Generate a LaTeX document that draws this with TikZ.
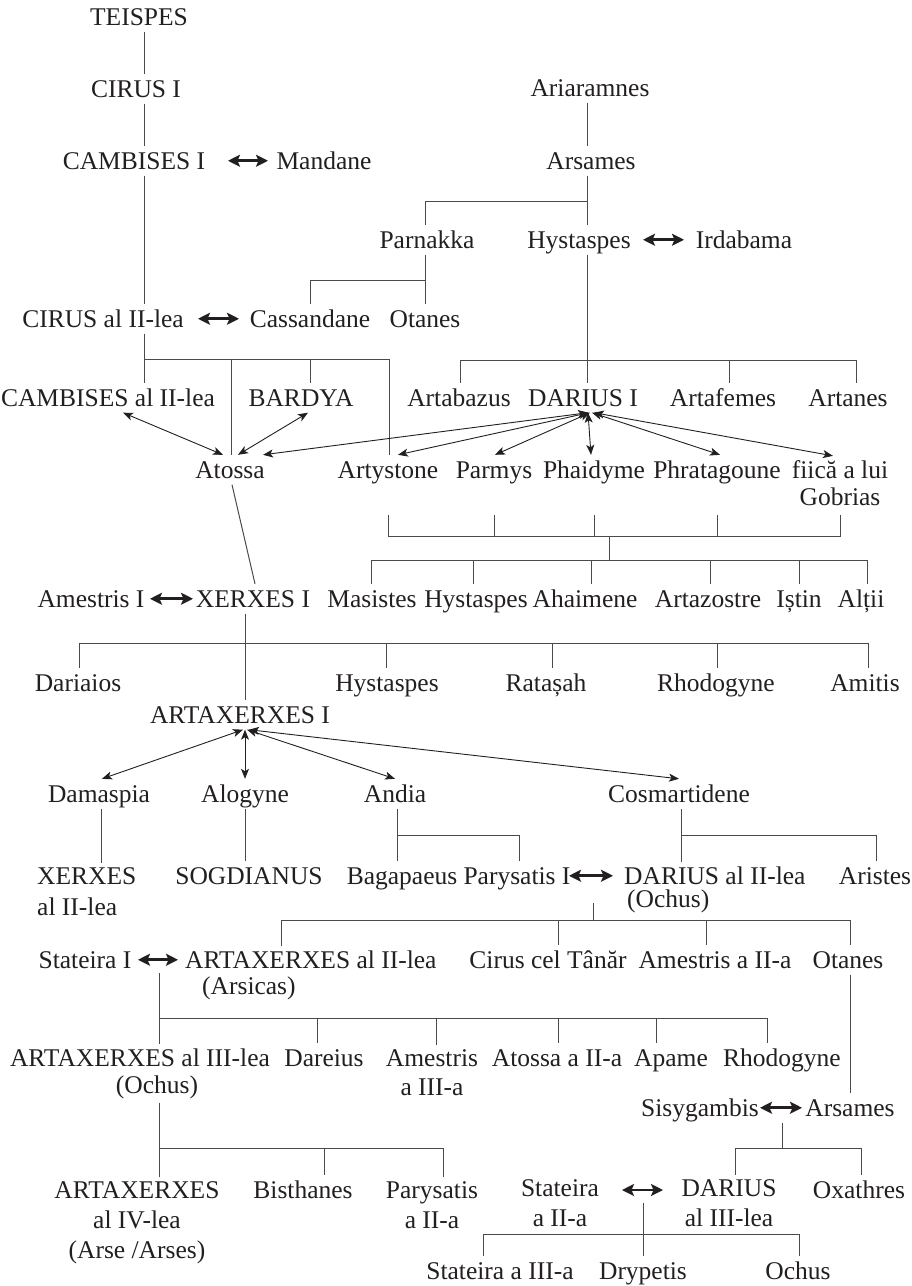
\documentclass[tikz,border=0pt]{standalone}
\usepackage{fontspec}
\setmainfont{Liberation Serif}
\usetikzlibrary{arrows.meta}
\definecolor{txt}{HTML}{231F20}
\definecolor{lin}{HTML}{4A4A4A}
\begin{document}
\begin{tikzpicture}[x=1pt,y=-1pt,
  every node/.style={font=\fontsize{25.5pt}{28pt}\selectfont, text=txt, inner xsep=0pt, inner ysep=1pt, text height=22pt, text depth=5.5pt, anchor=base},
  ml/.style={text height=, text depth=, inner ysep=4pt},
  mc/.style={ml, align=center},
  mlft/.style={ml, align=left, anchor=base west},
  ln/.style={draw=lin, line width=1pt},
  marr/.style={draw=txt, line width=2.6pt, {Stealth[length=12pt,width=12pt,inset=2.5pt]}-{Stealth[length=12pt,width=12pt,inset=2.5pt]}},
  sarr/.style={draw=txt, line width=0.9pt, {Stealth[length=10pt,width=8pt,inset=2.5pt]}-{Stealth[length=10pt,width=8pt,inset=2.5pt]}}
]
\useasboundingbox (0,0) rectangle (912,1286);

% ---------- nodes ----------
\node (teispes) at (139,25) {TEISPES};
\node (cirusI) at (136,97) {CIRUS I};
\node (cambI) at (134,169) {CAMBISES I};
\node (mandane) at (324,169) {Mandane};
\node (ariar) at (590,96) {Ariaramnes};
\node (arsames) at (591,169) {Arsames};
\node (parnakka) at (427,248) {Parnakka};
\node (hyst) at (579,248) {Hystaspes};
\node (irdabama) at (744,248) {Irdabama};
\node (cirusII) at (103,327) {CIRUS al II-lea};
\node (cassandane) at (310,327) {Cassandane};
\node (otanesA) at (425,327) {Otanes};
\node (cambII) at (108,406) {CAMBISES al II-lea};
\node (bardya) at (301,406) {BARDYA};
\node (artabazus) at (459,406) {Artabazus};
\node (dariusI) at (583,406) {DARIUS I};
\node (artafemes) at (723,406) {Artafemes};
\node (artanes) at (848,406) {Artanes};
\node (atossa) at (230,478) {Atossa};
\node (artystone) at (388,478) {Artystone};
\node (parmys) at (494,478) {Parmys};
\node (phaidyme) at (594,478) {Phaidyme};
\node (phratagoune) at (717,478) {Phratagoune};
\node[mc] (gobrias) at (840,505) {fiică a lui\\[-1pt]Gobrias};
\node (amestrisI) at (91,607) {Amestris I};
\node (xerxesI) at (253,607) {XERXES I};
\node (masistes) at (372,607) {Masistes};
\node (hystB) at (476,607) {Hystaspes};
\node (ahaimene) at (585,607) {Ahaimene};
\node (artazostre) at (708,607) {Artazostre};
\node (istin) at (799,607) {Iștin};
\node (altii) at (861,607) {Alții};
\node (dariaios) at (78,691) {Dariaios};
\node (hystC) at (387,691) {Hystaspes};
\node (ratasah) at (546,691) {Ratașah};
\node (rhodoA) at (716,691) {Rhodogyne};
\node (amitis) at (865,691) {Amitis};
\node (artaxI) at (240,723) {ARTAXERXES I};
\node (damaspia) at (99,802) {Damaspia};
\node (alogyne) at (245,802) {Alogyne};
\node (andia) at (395,802) {Andia};
\node (cosmart) at (679,802) {Cosmartidene};
\node[mlft] (xerxesII) at (37,915) {XERXES\\[3pt]al II-lea};
\node (sogdianus) at (249,884) {SOGDIANUS};
\node (bagapaeus) at (402,884) {Bagapaeus};
\node (parysatisI) at (517,884) {Parysatis I};
\node[mlft] (dariusII) at (624,907) {DARIUS al II-lea\\[-5pt]\hspace*{3pt}(Ochus)};
\node (aristes) at (875,884) {Aristes};
\node (stateiraI) at (85,968) {Stateira I};
\node[mlft] (artaxII) at (185,994) {ARTAXERXES al II-lea\\[-2pt]\hspace*{17pt}(Arsicas)};
\node (cirusT) at (548,968) {Cirus cel Tânăr};
\node (amestrisII) at (715,968) {Amestris a II-a};
\node (otanesB) at (848,968) {Otanes};
\node[mc] (artaxIII) at (140,1093) {ARTAXERXES al III-lea\\[-1pt]\hspace*{34pt}(Ochus)};
\node (dareius) at (324,1066) {Dareius};
\node[mc] (amestrisIII) at (432,1095) {Amestris\\[1pt]a III-a};
\node (atossaII) at (557,1066) {Atossa a II-a};
\node (apame) at (671,1066) {Apame};
\node (rhodoB) at (782,1066) {Rhodogyne};
\node (sisyg) at (700,1116) {Sisygambis};
\node (arsamesB) at (850,1116) {Arsames};
\node[mc] (artaxIV) at (137,1258) {ARTAXERXES\\[2pt]al IV-lea\\[2pt](Arse /Arses)};
\node (bisthanes) at (303,1198) {Bisthanes};
\node[mc] (parysatisII) at (432,1228) {Parysatis\\[2pt]a II-a};
\node[mc] (stateiraII) at (560,1226) {Stateira\\[2pt]a II-a};
\node[mc] (dariusIII) at (729,1226) {DARIUS\\[2pt]al III-lea};
\node (oxathres) at (859,1198) {Oxathres};
\node (stateiraIII) at (500,1279) {Stateira a III-a};
\node (drypetis) at (643,1279) {Drypetis};
\node (ochus) at (798,1279) {Ochus};

% ---------- junction coordinates ----------
\coordinate (jA) at (587,201);
\coordinate (jB) at (425,280);
\coordinate (jC) at (144,359);
\coordinate (jD) at (460,360);
\coordinate (tD) at (0,515);
\coordinate (bD) at (0,536);
\coordinate (jE) at (609,536);
\coordinate (bE) at (0,560);
\coordinate (bF) at (0,643);
\coordinate (bG) at (0,835);
\coordinate (mG) at (593,903);
\coordinate (bH) at (0,920);
\coordinate (mH) at (159,973);
\coordinate (bI) at (0,1018);
\coordinate (mI) at (782,1123);
\coordinate (bJ) at (0,1148);
\coordinate (bK) at (0,1148);
\coordinate (mJ) at (643,1190);
\coordinate (bL) at (0,1234);

% ---------- Teispes line ----------
\draw[ln] (teispes.south -| 144,0) -- (cirusI.north -| 144,0);
\draw[ln] (cirusI.south -| 144,0) -- (cambI.north -| 144,0);
\draw[ln] (cambI.south -| 144,0) -- (cirusII.north -| 144,0);
\draw[marr] (cambI.east -| 228,0) -- (mandane.west -| 268,0);

% ---------- Ariaramnes line ----------
\draw[ln] (ariar.south -| 587,0) -- (arsames.north -| 587,0);
\draw[ln] (arsames.south -| 587,0) -- (hyst.north -| 587,0);
\draw[ln] (jA) -| (parnakka.north -| 425,0);
\draw[marr] (hyst.east -| 643,0) -- (irdabama.west -| 684,0);
\draw[ln] (parnakka.south -| 425,0) -- (otanesA.north -| 425,0);
\draw[ln] (jB) -| (cassandane.north -| 310,0);
\draw[marr] (cirusII.east -| 198,0) -- (cassandane.west -| 239,0);

% ---------- Cirus II children ----------
\draw[ln] (cirusII.south -| 144,0) -- (cambII.north -| 144,0);
\draw[ln] (jC) -| (artystone.north -| 389,0);
\draw[ln] (jC -| 231,0) -- (atossa.north -| 231,0);
\draw[ln] (jC -| 310,0) -- (bardya.north -| 310,0);

% ---------- Hystaspes children ----------
\draw[ln] (hyst.south -| 587,0) -- (dariusI.north -| 587,0);
\draw[ln] (artabazus.north -| 460,0) -- (jD) -- (jD -| 856,0) -- (artanes.north -| 856,0);
\draw[ln] (jD -| 729,0) -- (artafemes.north -| 729,0);

% ---------- marriages of Atossa and Darius I ----------
\draw[sarr] (cambII.south -| 123,0) -- (atossa.north -| 223,0);
\draw[sarr] (bardya.south -| 308,0) -- (atossa.north -| 238,0);
\draw[sarr] (dariusI.south -| 588,0) -- (atossa.north -| 263,0);
\draw[sarr] (dariusI.south -| 589,0) -- (artystone.north -| 398,0);
\draw[sarr] (dariusI.south -| 590,0) -- (parmys.north -| 495,0);
\draw[sarr] (dariusI.south -| 588,0) -- (phaidyme.north -| 591,0);
\draw[sarr] (dariusI.south -| 592,0) -- (phratagoune.north -| 720,0);
\draw[sarr] (dariusI.south -| 594,0) -- (gobrias.north -| 833,0);

% ---------- Darius I children ----------
\draw[ln] (artystone |- tD) -- (artystone |- bD) -- (gobrias |- bD) -- (gobrias |- tD);
\foreach \n in {parmys,phaidyme,phratagoune} \draw[ln] (\n |- tD) -- (\n |- bD);
\draw[ln] (jE) -- (jE |- bE);
\draw[ln] (masistes.north -| 371,0) -- (bE -| 371,0) -- (bE -| 867,0) -- (altii.north -| 867,0);
\foreach \n/\x in {hystB/473,ahaimene/591,artazostre/710,istin/799} \draw[ln] (bE -| \x,0) -- (\n.north -| \x,0);

% ---------- Xerxes I ----------
\draw[marr] (amestrisI.east -| 150,0) -- (xerxesI.west -| 193,0);
\draw[ln] (atossa.south -| 232,0) -- (xerxesI.north -| 255,0);
\draw[ln] (xerxesI.south -| 245,0) -- (artaxI.north -| 245,0);
\draw[ln] (dariaios.north -| 79,0) -- (bF -| 79,0) -- (bF -| 868,0) -- (amitis.north -| 868,0);
\foreach \n/\x in {hystC/386,ratasah/552,rhodoA/717} \draw[ln] (bF -| \x,0) -- (\n.north -| \x,0);

% ---------- Artaxerxes I ----------
\draw[sarr] (artaxI.south -| 243,0) -- (damaspia.north -| 102,0);
\draw[sarr] (artaxI.south -| 245,0) -- (alogyne.north -| 245,0);
\draw[sarr] (artaxI.south -| 247,0) -- (andia.north -| 395,0);
\draw[sarr] (artaxI.south -| 249,0) -- (cosmart.north -| 679,0);
\draw[ln] (damaspia.south -| 101,0) -- (xerxesII.north -| 101,0);
\draw[ln] (alogyne.south) -- (sogdianus.north -| alogyne.south);
\draw[ln] (andia.south -| 397,0) -- (bagapaeus.north -| 397,0);
\draw[ln] (bG -| 397,0) -| (parysatisI.north -| 519,0);
\draw[ln] (cosmart.south -| 681,0) -- (dariusII.north -| 681,0);
\draw[ln] (bG -| 681,0) -| (aristes.north -| 876,0);

% ---------- Darius II ----------
\draw[marr] (parysatisI.east -| 569,0) -- (parysatisI.east -| 613,0);
\draw[ln] (mG) -- (mG |- bH);
\draw[ln] (artaxII.north -| 281,0) -- (bH -| 281,0) -- (bH -| 850,0) -- (otanesB.north -| 850,0);
\foreach \n/\x in {cirusT/558,amestrisII/706} \draw[ln] (bH -| \x,0) -- (\n.north -| \x,0);

% ---------- Artaxerxes II ----------
\draw[marr] (stateiraI.east -| 138,0) -- (stateiraI.east -| 178,0);
\draw[ln] (mH) -- (artaxIII.north -| 159,0);
\draw[ln] (bI -| 159,0) -- (bI -| 767,0) -- (rhodoB.north -| 767,0);
\foreach \n/\x in {dareius/317,amestrisIII/436,atossaII/558,apame/656} \draw[ln] (bI -| \x,0) -- (\n.north -| \x,0);

% ---------- Otanes / Arsames ----------
\draw[ln] (otanesB.south -| 850,0) -- (arsamesB.north -| 850,0);
\draw[marr] (sisyg.east -| 760,0) -- (arsamesB.west -| 802,0);
\draw[ln] (mI) -- (mI |- bJ);
\draw[ln] (dariusIII.north -| 735,0) -- (bJ -| 735,0) -- (bJ -| 861,0) -- (oxathres.north -| 861,0);

% ---------- Artaxerxes III ----------
\draw[ln] (artaxIII.south -| 159,0) -- (artaxIV.north -| 159,0);
\draw[ln] (bK -| 159,0) -- (bK -| 443,0) -- (parysatisII.north -| 443,0);
\draw[ln] (bK -| 324,0) -- (bisthanes.north -| 324,0);

% ---------- Darius III ----------
\draw[marr] ([xshift=-21pt]mJ) -- ([xshift=20pt]mJ);
\draw[ln] ([yshift=-13pt]mJ) -- (drypetis.north -| mJ);
\draw[ln] (stateiraIII.north -| 483,0) -- (bL -| 483,0) -- (bL -| 799,0) -- (ochus.north -| 799,0);
\end{tikzpicture}
\end{document}
